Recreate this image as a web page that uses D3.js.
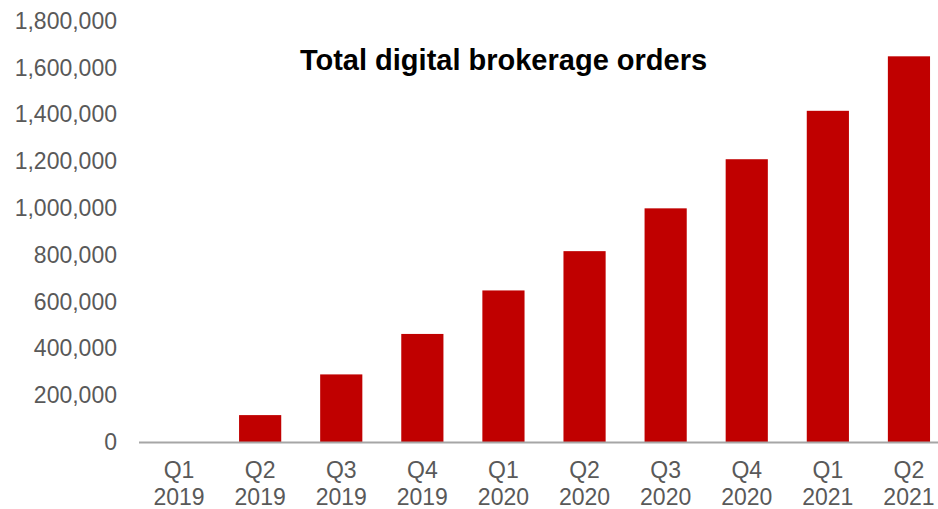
<!DOCTYPE html>
<html>
<head>
<meta charset="utf-8">
<script src="https://cdn.jsdelivr.net/npm/d3@7"></script>
<style>
  body { margin: 0; background: #fff; }
  svg { display: block; font-family: "Liberation Sans", Arial, sans-serif; }
</style>
</head>
<body>
<div id="chart"></div>
<script>
// Data
const quarters = ['Q1', 'Q2', 'Q3', 'Q4', 'Q1', 'Q2', 'Q3', 'Q4', 'Q1', 'Q2'];
const years = ['2019', '2019', '2019', '2019', '2020', '2020', '2020', '2020', '2021', '2021'];
const orders = [0, 115000, 289000, 462000, 648000, 816000, 999000, 1209000, 1416000, 1649000];
const yTicks = [0, 200000, 400000, 600000, 800000, 1000000, 1200000, 1400000, 1600000, 1800000];

const width = 938;
const height = 509;
const margin = { top: 21, right: -11.5, bottom: 67, left: 138.5 };

const labels = quarters.map((q, i) => `${q} ${years[i]}`);

const svg = d3.select('#chart')
  .append('svg')
  .attr('width', width)
  .attr('height', height);

const xScale = d3.scaleBand()
  .domain(labels)
  .range([margin.left, width - margin.right])
  .paddingInner(0.48)
  .paddingOuter(0.24);

const yScale = d3.scaleLinear()
  .domain([0, 1800000])
  .range([height - margin.bottom, margin.top]);

// Bars
svg.append('g')
  .selectAll('rect')
  .data(orders)
  .join('rect')
  .attr('x', (d, i) => xScale(labels[i]))
  .attr('y', d => yScale(d))
  .attr('width', xScale.bandwidth())
  .attr('height', d => yScale(0) - yScale(d))
  .attr('fill', '#c00000');

// Y axis (labels only)
const yAxis = d3.axisLeft(yScale)
  .tickValues(yTicks)
  .tickFormat(d3.format(','))
  .tickSize(0)
  .tickPadding(0);

svg.append('g')
  .attr('transform', 'translate(117, 0)')
  .call(yAxis)
  .call(g => g.select('.domain').remove())
  .call(g => g.selectAll('text')
    .attr('fill', '#595959')
    .attr('font-size', 23)
    .attr('font-family', '"Liberation Sans", Arial, sans-serif'));

// X axis: baseline + two-line labels
const xAxis = d3.axisBottom(xScale).tickSize(0).tickFormat('');
svg.append('g')
  .attr('transform', `translate(0, ${yScale(0)})`)
  .call(xAxis)
  .call(g => g.select('.domain')
    .attr('stroke', '#a6a6a6')
    .attr('stroke-width', 2));

const xLabels = svg.append('g')
  .selectAll('text')
  .data(labels)
  .join('text')
  .attr('x', d => xScale(d) + xScale.bandwidth() / 2)
  .attr('y', 477.5)
  .attr('text-anchor', 'middle')
  .attr('fill', '#595959')
  .attr('font-size', 23);

xLabels.append('tspan')
  .attr('x', d => xScale(d) + xScale.bandwidth() / 2)
  .text((d, i) => quarters[i]);

xLabels.append('tspan')
  .attr('x', d => xScale(d) + xScale.bandwidth() / 2)
  .attr('dy', 27.5)
  .text((d, i) => years[i]);

// Title
svg.append('text')
  .attr('x', 503.5)
  .attr('y', 69.5)
  .attr('text-anchor', 'middle')
  .attr('font-size', 29)
  .attr('font-weight', 'bold')
  .attr('fill', '#000')
  .text('Total digital brokerage orders');
</script>
</body>
</html>
